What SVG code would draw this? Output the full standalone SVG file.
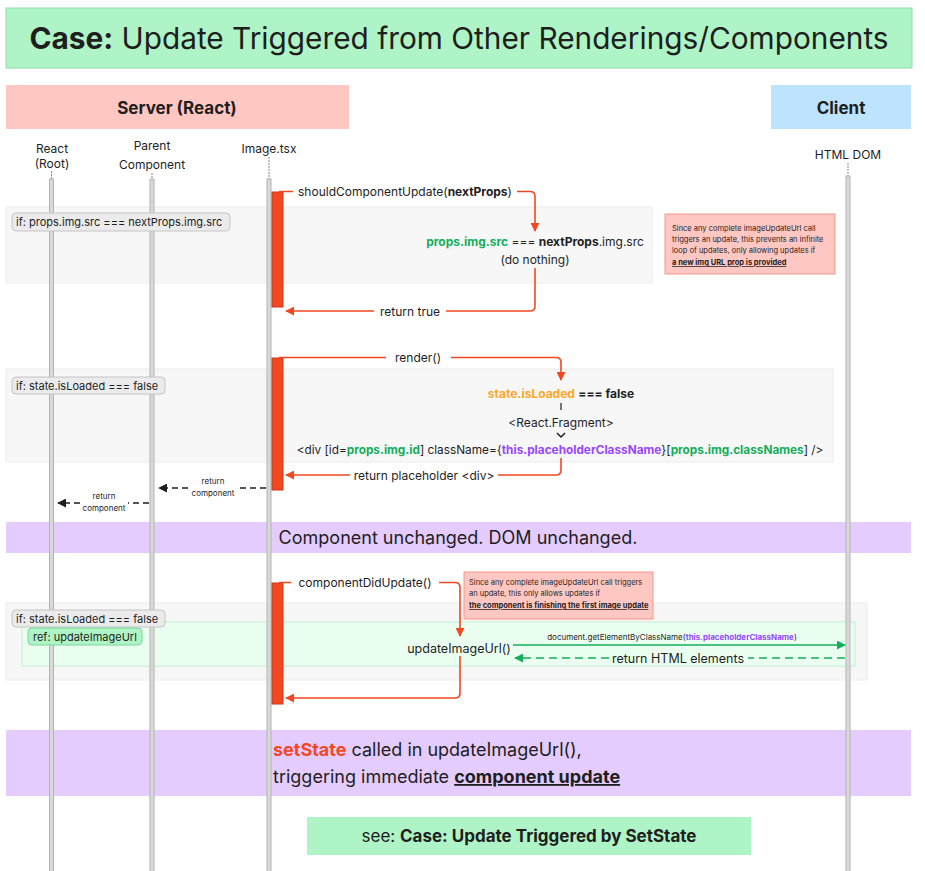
<svg xmlns="http://www.w3.org/2000/svg" width="925" height="871" viewBox="0 0 925 871">
<defs>
<style>
text{font-family:Inter,"Noto Sans","Liberation Sans",sans-serif;fill:#1e1e1e}
.c{text-anchor:middle}
.b{font-weight:700}
.lbl{font-size:12px}
.m{font-size:12px}
.s{font-size:8px}
.frag{fill:#f7f7f7;stroke:#ececec;stroke-width:1}
.pill{fill:#ebebeb;stroke:#c4c4c4;stroke-width:1}
.life{fill:#d9d9d9;stroke:#b3b3b3;stroke-width:1}
.act{fill:#f24822;stroke:#c9381a;stroke-width:1}
.red{fill:none;stroke:#f24822;stroke-width:1.6}
.blk{fill:none;stroke:#1e1e1e;stroke-width:1.6;stroke-dasharray:6 4}
.grn{fill:none;stroke:#14ae5c;stroke-width:1.6}
.grnd{fill:none;stroke:#14ae5c;stroke-width:1.6;stroke-dasharray:8 5}
.note{fill:#ffc7c2;stroke:#f5958a;stroke-width:1}
.g{fill:#14ae5c}
.p{fill:#9747ff}
.o{fill:#ffa629}
.r{fill:#f24822}
</style>
<marker id="ar" viewBox="0 0 10 10" refX="9" refY="5" markerWidth="9" markerHeight="9" markerUnits="userSpaceOnUse" orient="auto"><path d="M0,0L10,5L0,10z" fill="#f24822"/></marker>
<marker id="ak" viewBox="0 0 10 10" refX="9" refY="5" markerWidth="9" markerHeight="9" markerUnits="userSpaceOnUse" orient="auto"><path d="M0,0L10,5L0,10z" fill="#1e1e1e"/></marker>
<marker id="ag" viewBox="0 0 10 10" refX="9" refY="5" markerWidth="9" markerHeight="9" markerUnits="userSpaceOnUse" orient="auto"><path d="M0,0L10,5L0,10z" fill="#14ae5c"/></marker>
</defs>
<rect width="925" height="871" fill="#ffffff"/>

<g id="title">
<rect x="6" y="8" width="906" height="60" fill="#aff4c6" stroke="#8fdcaa"/>
<text x="459" y="49" class="c" font-size="29.8"><tspan class="b">Case:</tspan> Update Triggered from Other Renderings/Components</text>
</g>
<g id="server-header">
<rect x="6" y="85" width="343" height="44" fill="#ffc7c2"/>
<text x="177" y="114" class="c b" font-size="17">Server (React)</text>
</g>
<g id="client-header">
<rect x="771" y="85" width="140" height="44" fill="#bde3ff"/>
<text x="841" y="114" class="c b" font-size="17">Client</text>
</g>

<g id="fragments">
<rect class="frag" x="6" y="207" width="646" height="76"/>
<rect class="frag" x="6" y="369" width="827" height="93"/>
<rect class="frag" x="6" y="603" width="861" height="77"/>
<rect x="22" y="622" width="833" height="44" fill="#ebfff0" stroke="#c2f0d1"/>
</g>

<g id="bands">
<rect x="6" y="522" width="905" height="31" fill="#e4ccff"/>
<text x="458" y="544" class="c" font-size="18">Component unchanged. DOM unchanged.</text>
<rect x="6" y="730" width="905" height="66" fill="#e4ccff"/>
<text x="273" y="756" font-size="18"><tspan class="r b">setState</tspan> called in updateImageUrl(),</text>
<text x="273" y="783" font-size="18">triggering immediate <tspan class="b" text-decoration="underline">component update</tspan></text>
</g>

<g id="lifeline-react">
<text x="52" y="153" class="c lbl">React</text>
<text x="52" y="168" class="c lbl">(Root)</text>
<line x1="51.5" y1="171" x2="51.5" y2="179" stroke="#888" stroke-dasharray="2 1"/>
<rect class="life" x="49.5" y="179" width="4" height="693"/>
</g>
<g id="lifeline-parent">
<text x="152" y="150" class="c lbl">Parent</text>
<text x="152" y="169" class="c lbl">Component</text>
<line x1="152" y1="173" x2="152" y2="179" stroke="#888" stroke-dasharray="2 1"/>
<rect class="life" x="150" y="179" width="4" height="693"/>
</g>
<g id="lifeline-image">
<text x="269" y="153" class="c lbl">Image.tsx</text>
<line x1="269" y1="157" x2="269" y2="179" stroke="#888" stroke-dasharray="2 1"/>
<rect class="life" x="267" y="179" width="4" height="693"/>
</g>
<g id="lifeline-dom">
<text x="848" y="159" class="c lbl">HTML DOM</text>
<line x1="848" y1="163" x2="848" y2="176" stroke="#888" stroke-dasharray="2 1"/>
<rect class="life" x="846" y="176" width="4" height="696"/>
</g>

<g id="activations">
<rect class="act" x="272" y="192" width="11" height="115"/>
<rect class="act" x="272" y="358" width="11" height="132"/>
<rect class="act" x="272" y="583" width="11" height="121"/>
</g>

<g id="pills">
<rect class="pill" x="12" y="213" width="218" height="18" rx="4"/>
<text x="16" y="226" font-size="11">if: props.img.src === nextProps.img.src</text>
<rect class="pill" x="12" y="377" width="153" height="17" rx="4"/>
<text x="16" y="389.5" font-size="11">if: state.isLoaded === false</text>
<rect class="pill" x="12" y="610" width="153" height="17" rx="4"/>
<text x="16" y="622.5" font-size="11">if: state.isLoaded === false</text>
<rect x="28" y="628" width="114" height="17" rx="4" fill="#aff4c6" stroke="#79d69a"/>
<text x="33" y="640.5" font-size="11">ref: updateImageUrl</text>
</g>

<g id="notes">
<rect class="note" x="665" y="214" width="170" height="60"/>
<text x="672" y="231" font-size="7.5">Since any complete imageUpdateUrl call</text>
<text x="672" y="242" font-size="7.5">triggers an update, this prevents an infinite</text>
<text x="672" y="253" font-size="7.5">loop of updates, only allowing updates if</text>
<text x="672" y="265" font-size="7.5" class="b" text-decoration="underline">a new img URL prop is provided</text>
<rect class="note" x="464" y="572" width="189" height="47"/>
<text x="469" y="585" font-size="7.5">Since any complete imageUpdateUrl call triggers</text>
<text x="469" y="596" font-size="7.5">an update, this only allows updates if</text>
<text x="469" y="608" font-size="7.5" class="b" text-decoration="underline">the component is finishing the first image update</text>
</g>

<g id="connectors">
<path class="red" d="M279,191.5H293M517,191.5H530Q535,191.5 535,196.5V231" marker-end="url(#ar)"/>
<text x="405" y="196" class="c m">shouldComponentUpdate(<tspan class="b">nextProps</tspan>)</text>
<text x="535" y="246" class="c m"><tspan class="g b">props.img.src</tspan> === <tspan class="b">nextProps</tspan>.img.src</text>
<text x="535" y="264" class="c m">(do nothing)</text>
<path class="red" d="M535,268V306Q535,311 530,311H446M374,311H286" marker-end="url(#ar)"/>
<text x="410" y="315.5" class="c m">return true</text>

<path class="red" d="M279,357.5H386M451,357.5H556Q561,357.5 561,362.5V380" marker-end="url(#ar)"/>
<text x="418" y="362" class="c m">render()</text>
<text x="561" y="398" class="c m"><tspan class="o b">state.isLoaded</tspan> <tspan class="b">=== false</tspan></text>
<line x1="561" y1="403" x2="561" y2="410" stroke="#1e1e1e" stroke-width="1.2"/>
<text x="561" y="427" class="c m">&lt;React.Fragment&gt;</text>
<path d="M557,433L561,437L565,433" fill="none" stroke="#1e1e1e" stroke-width="1.5"/>
<text x="560" y="454" class="c" font-size="11.8">&lt;div [id=<tspan class="g b">props.img.id</tspan>] className={<tspan class="p b">this.placeholderClassName</tspan>}[<tspan class="g b">props.img.classNames</tspan>] /&gt;</text>
<path class="red" d="M561,458V470Q561,475 556,475H498M350,475H286" marker-end="url(#ar)"/>
<text x="424" y="479.5" class="c m">return placeholder &lt;div&gt;</text>

<path class="blk" d="M266,488H238M188,488H159" marker-end="url(#ak)"/>
<text x="213" y="484" class="c s">return</text>
<text x="213" y="496" class="c s">component</text>
<path class="blk" d="M149,503H128M80,503H58" marker-end="url(#ak)"/>
<text x="104" y="499" class="c s">return</text>
<text x="104" y="511" class="c s">component</text>

<path class="red" d="M279,582.5H291M439,582.5H455Q460,582.5 460,587.5V636" marker-end="url(#ar)"/>
<text x="365" y="587" class="c m">componentDidUpdate()</text>
<text x="459" y="653" class="c" font-size="12.5">updateImageUrl()</text>
<path class="grn" d="M513,645H845" marker-end="url(#ag)"/>
<text x="672" y="640" class="c s">document.getElementByClassName(<tspan class="p b">this.placeholderClassName</tspan>)</text>
<path class="grnd" d="M845,658H748M609,658H515" marker-end="url(#ag)"/>
<text x="678" y="662.5" class="c" font-size="12.5">return HTML elements</text>
<path class="red" d="M460,656V693Q460,698 455,698H286" marker-end="url(#ar)"/>
</g>

<g id="see-box">
<rect x="307" y="817" width="444" height="38" fill="#aff4c6"/>
<text x="529" y="842" class="c" font-size="17">see: <tspan class="b">Case: Update Triggered by SetState</tspan></text>
</g>
</svg>
